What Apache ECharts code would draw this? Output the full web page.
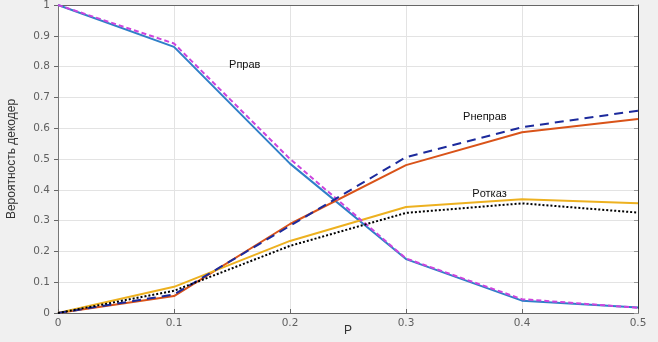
<!DOCTYPE html>
<html><head><meta charset="utf-8">
<script src="https://cdn.jsdelivr.net/npm/echarts@6/dist/echarts.min.js"></script>
<style>html,body{margin:0;padding:0;background:#f0f0f0}#c{width:658px;height:342px}</style>
</head><body><div id="c"></div>
<script>
const xCats = [0, 0.1, 0.2, 0.3, 0.4, 0.5];
const pPravSim = [1, 0.864, 0.485, 0.175, 0.04, 0.018];
const pPravTheory = [1, 0.875, 0.50, 0.177, 0.045, 0.017];
const pNepravSim = [0, 0.055, 0.289, 0.48, 0.587, 0.63];
const pNepravTheory = [0, 0.06, 0.283, 0.506, 0.603, 0.657];
const pOtkazSim = [0, 0.085, 0.234, 0.344, 0.369, 0.356];
const pOtkazTheory = [0, 0.072, 0.218, 0.325, 0.356, 0.326];
const annotations = [
  {text: 'Pправ', x: 0.161, y: 0.805},
  {text: 'Pнеправ', x: 0.368, y: 0.636},
  {text: 'Pотказ', x: 0.372, y: 0.386}
];
const toPairs = a => a.map((v, i) => [xCats[i], v]);
const chart = echarts.init(document.getElementById('c'));
const lbl = {color: '#606060', fontSize: 10.5, fontFamily: 'DejaVu Sans'};
const mk = (name, data, color, type, z) => ({
  name, type: 'line', data: toPairs(data), symbol: 'none', z,
  lineStyle: {color, width: 2, type}
});
chart.setOption({
  backgroundColor: '#f0f0f0',
  animation: false,
  grid: {left: 58, right: 20, top: 5, bottom: 29, show: true, backgroundColor: '#fff', borderWidth: 0,
    containLabel: false, outerBoundsMode: 'none'},
  xAxis: [{
    type: 'value', min: 0, max: 0.5, interval: 0.1,
    name: 'P', nameLocation: 'middle', nameGap: 12, nameMoveOverlap: false,
    nameTextStyle: {color: '#333', fontSize: 12, fontFamily: 'Liberation Sans, Arial', verticalAlign: 'top'},
    axisLine: {onZero: false, lineStyle: {color: '#666'}},
    axisTick: {inside: true, length: 4, lineStyle: {color: '#666'}},
    axisLabel: Object.assign({margin: 5, formatter: v => String(+v.toFixed(1))}, lbl),
    splitLine: {show: true, lineStyle: {color: '#e3e3e3'}}
  }, {
    type: 'value', position: 'top', min: 0, max: 0.5, interval: 0.1,
    axisLine: {onZero: false, lineStyle: {color: '#666'}}, axisTick: {show: false},
    axisLabel: {show: false}, splitLine: {show: false}
  }],
  yAxis: [{
    type: 'value', min: 0, max: 1, interval: 0.1,
    name: 'Вероятность декодер', nameLocation: 'middle', nameGap: 40, nameMoveOverlap: false,
    nameTextStyle: {color: '#333', fontSize: 12, fontFamily: 'Liberation Sans, Arial'},
    axisLine: {show: true, onZero: false, lineStyle: {color: '#777'}},
    axisTick: {show: true, inside: false, length: 4, lineStyle: {color: '#666'}},
    axisLabel: Object.assign({margin: 8, formatter: v => String(+v.toFixed(1))}, lbl),
    splitLine: {show: true, lineStyle: {color: '#e3e3e3'}}
  }, {
    type: 'value', position: 'right', min: 0, max: 1, interval: 0.1,
    axisLine: {show: true, onZero: false, lineStyle: {color: '#333'}},
    axisTick: {show: true, inside: true, length: 4, lineStyle: {color: '#999'}},
    axisLabel: {show: false}, splitLine: {show: false}
  }],
  series: [
    mk('Pправ', pPravSim, '#2f7fc8', 'solid', 2),
    mk('Pправ т', pPravTheory, '#cc44dd', [5, 3], 3),
    mk('Pнеправ', pNepravSim, '#d95319', 'solid', 2),
    mk('Pнеправ т', pNepravTheory, '#1c2a9c', [9, 6], 3),
    mk('Pотказ', pOtkazSim, '#edb120', 'solid', 2),
    mk('Pотказ т', pOtkazTheory, '#000', [2, 2], 3)
  ]
});
chart.setOption({
  graphic: annotations.map(a => {
    const p = chart.convertToPixel({gridIndex: 0}, [a.x, a.y]);
    return {type: 'text', x: p[0], y: p[1], style: {text: a.text, fill: '#111', fontSize: 11,
      fontFamily: 'Liberation Sans, Arial', align: 'center', verticalAlign: 'middle'}};
  })
});
</script></body></html>
